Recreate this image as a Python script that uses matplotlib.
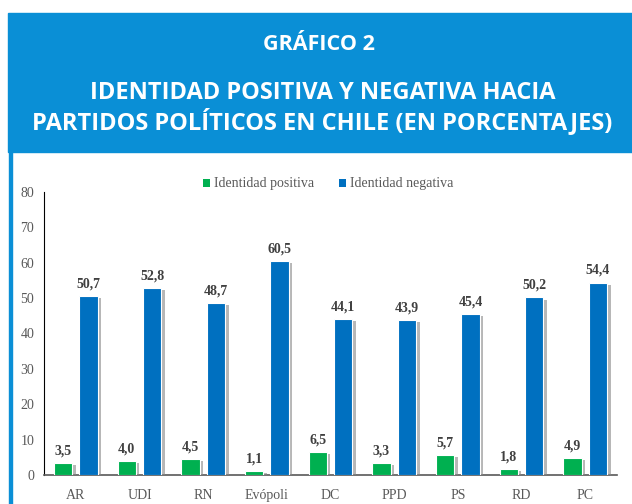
import numpy as np
import matplotlib.pyplot as plt
import matplotlib.patheffects as pe
from matplotlib.patches import Rectangle

partidos = ['AR', 'UDI', 'RN', 'Evópoli', 'DC', 'PPD', 'PS', 'RD', 'PC']
positiva = [3.5, 4.0, 4.5, 1.1, 6.5, 3.3, 5.7, 1.8, 4.9]
negativa = [50.7, 52.8, 48.7, 60.5, 44.1, 43.9, 45.4, 50.2, 54.4]

verde = '#00b050'
azul = '#0070c0'
cabecera = '#0a8fd6'
gris_txt = '#404040'

fig = plt.figure(figsize=(6.32, 5.04), dpi=100)

# cabecera azul
fig.patches.append(Rectangle((8/632, 1-152/504), 624/632, 139/504,
                             transform=fig.transFigure, color=cabecera, zorder=0))
fig.patches.append(Rectangle((9/632, 0), 3/632, 1-152/504,
                             transform=fig.transFigure, color=cabecera, zorder=0))
fig.text(0.505, 1-44/504, 'GRÁFICO 2', color='white', fontsize=15.5,
         fontweight='bold', family='Open Sans', ha='center', va='center')
fig.text(0.51, 1-108/504, 'IDENTIDAD POSITIVA Y NEGATIVA HACIA\nPARTIDOS POLÍTICOS EN CHILE (EN PORCENTAJES)',
         color='white', fontsize=17, fontweight='bold', family='Open Sans',
         ha='center', va='center', linespacing=1.15)

ax = fig.add_axes([44/632, 1-475/504, 573/632, 283/504])
x = np.arange(len(partidos))
w = 0.29
sombra = [pe.SimplePatchShadow(offset=(2.5, -1.5), shadow_rgbFace='#888888', alpha=0.6), pe.Normal()]
b1 = ax.bar(x - 0.2, positiva, w, color=verde, edgecolor='white', linewidth=0.8,
            label='Identidad positiva', zorder=3)
b2 = ax.bar(x + 0.2, negativa, w, color=azul, edgecolor='white', linewidth=0.8,
            label='Identidad negativa', zorder=3)
for b in list(b1) + list(b2):
    b.set_path_effects(sombra)

for xi, v in zip(x, positiva):
    ax.annotate(f'{v:.1f}'.replace('.', ','), (xi - 0.2, v), xytext=(0, 4),
                textcoords='offset points', ha='center', va='bottom',
                fontsize=10, fontweight='bold', family='Liberation Serif', color=gris_txt)
for xi, v in zip(x, negativa):
    ax.annotate(f'{v:.1f}'.replace('.', ','), (xi + 0.2, v), xytext=(0, 4),
                textcoords='offset points', ha='center', va='bottom',
                fontsize=10, fontweight='bold', family='Liberation Serif', color=gris_txt)

ax.set_xlim(-0.5, len(partidos) - 0.5)
ax.set_ylim(0, 80)
ax.set_yticks(range(0, 81, 10))
ax.set_xticks(x)
ax.set_xticklabels(partidos)
for lab in ax.get_xticklabels() + ax.get_yticklabels():
    lab.set_family('Liberation Serif')
    lab.set_fontsize(10)
    lab.set_color('#595959')
ax.tick_params(axis='both', length=0)
ax.tick_params(axis='x', pad=10)
ax.tick_params(axis='y', pad=7)
ax.spines['top'].set_visible(False)
ax.spines['right'].set_visible(False)
ax.spines['left'].set_color('black')
ax.spines['bottom'].set_color('#595959')
ax.spines['bottom'].set_linewidth(1.2)

leg = ax.legend(loc='center', bbox_to_anchor=(0.496, 1 + 8/283), ncol=2, frameon=False,
                prop={'family': 'Liberation Serif', 'size': 10}, handlelength=0.5,
                handleheight=0.5, handletextpad=0.3, columnspacing=1.8)
for t in leg.get_texts():
    t.set_color('#595959')
for h in leg.legend_handles:
    h.set_path_effects([])
    h.set_edgecolor('none')

fig.savefig('out.png', dpi=100)
